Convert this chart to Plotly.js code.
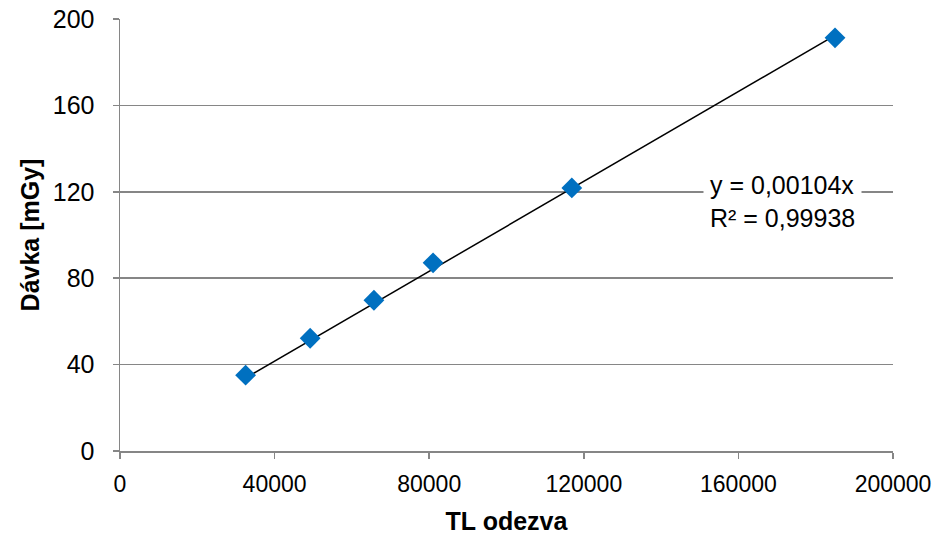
<!DOCTYPE html>
<html>
<head>
<meta charset="utf-8">
<script src="https://cdn.plot.ly/plotly-3.0.1.min.js"></script>
<style>html,body{margin:0;padding:0;background:#fff}#chart{width:949px;height:536px}</style>
</head>
<body>
<div id="chart"></div>
<script>
const tlResponse = [32500, 49200, 65700, 81000, 116900, 185000];
const dose = [35.1, 52.2, 69.8, 87.1, 121.8, 191.3];
const slope = 0.00104;
const r2Text = "0,99938";
const xTicks = [0, 40000, 80000, 120000, 160000, 200000];
const yTicks = [0, 40, 80, 120, 160, 200];

const xMin = Math.min(...tlResponse), xMax = Math.max(...tlResponse);
const trendX = [xMin, xMax];
const trendY = trendX.map(v => slope * v);

const font = "Liberation Sans, Arial, sans-serif";
const data = [
  {x: trendX, y: trendY, mode: 'lines', line: {color: '#000', width: 1.5}, hoverinfo: 'skip', showlegend: false},
  {x: tlResponse, y: dose, mode: 'markers', marker: {symbol: 'diamond', size: 16, color: '#0070C0'}, showlegend: false}
];
const ml = 120, mr = 56, mt = 19, mb = 85;
const pw = 949 - ml - mr, ph = 536 - mt - mb;
const layout = {
  width: 949, height: 536,
  margin: {l: ml, r: mr, t: mt, b: mb},
  paper_bgcolor: '#fff', plot_bgcolor: '#fff',
  font: {family: font, size: 25, color: '#000'},
  xaxis: {
    range: [0, 200000], tickvals: xTicks, ticktext: xTicks.map(String),
    tickfont: {size: 23},
    showgrid: false, zeroline: false, showline: true, linecolor: '#868686', linewidth: 1.5,
    ticks: 'outside', ticklen: 6, tickcolor: '#868686', tickwidth: 1.5,
    ticklabelstandoff: 6,
    title: {text: '<b>TL odezva</b>', font: {size: 25}, standoff: 16}
  },
  yaxis: {
    range: [0, 200], tickvals: yTicks, ticktext: yTicks.map(String),
    showgrid: true, gridcolor: '#868686', gridwidth: 1.5, zeroline: false,
    showline: true, linecolor: '#868686', linewidth: 1.5,
    ticks: 'outside', ticklen: 6, tickcolor: '#868686', tickwidth: 1.5,
    ticklabelstandoff: 13,
    title: {text: '<b>Dávka [mGy]</b>', font: {size: 25}, standoff: 6}
  },
  annotations: [{
    x: (703 - ml) / pw, y: (536 - mb - 201) / ph, xref: 'paper', yref: 'paper',
    xanchor: 'left', yanchor: 'middle',
    text: 'y = 0,00104x<br>R² = ' + r2Text, showarrow: false, align: 'left',
    bgcolor: '#fff', borderpad: 6, font: {size: 25, color: '#000'}
  }]
};
Plotly.newPlot('chart', data, layout, {displayModeBar: false, staticPlot: true});
</script>
</body>
</html>
